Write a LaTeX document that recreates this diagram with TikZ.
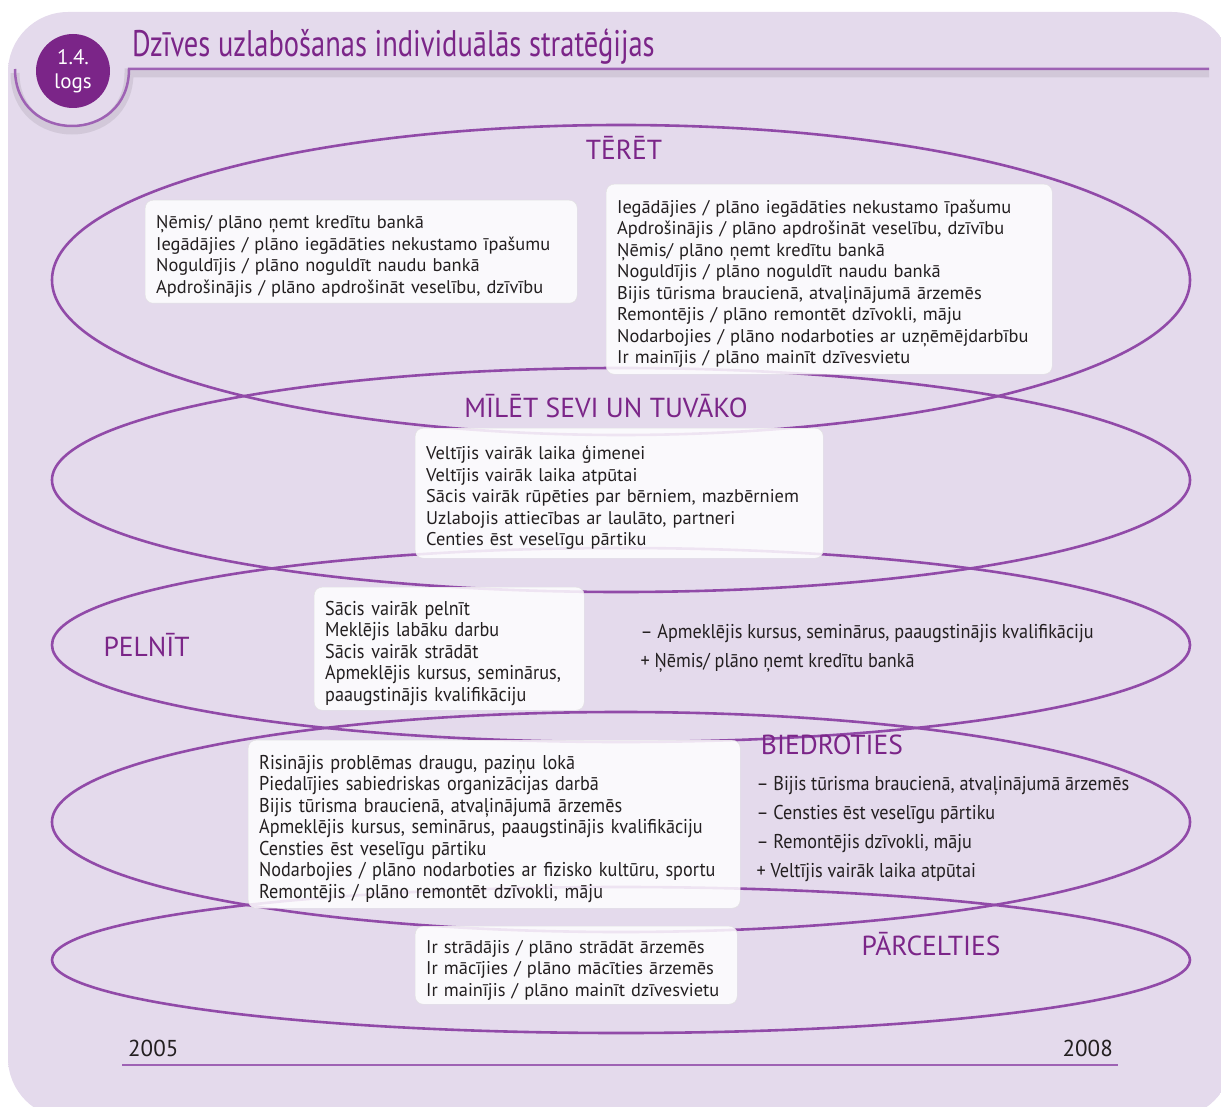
\documentclass[tikz,border=0pt]{standalone}
\usepackage{fontspec}
\setmainfont{PT Sans}
\newfontfamily\condfont{PT Sans}[FakeStretch=0.91]
\newfontfamily\titlefont{PT Sans}[FakeStretch=0.77]

\definecolor{logpurple}{RGB}{123,37,136}
\definecolor{ringpurple}{RGB}{145,74,168}
\definecolor{linepurple}{RGB}{158,98,180}
\definecolor{bglav}{RGB}{228,218,236}
\definecolor{bglight}{RGB}{241,236,246}
\definecolor{txtgray}{RGB}{35,31,32}

\begin{document}
\begin{tikzpicture}[x=1pt,y=-1pt]

\tikzset{ring/.style = {draw=ringpurple, line width=2.6pt}}
\tikzset{listbox/.style = {draw=black!12, fill=white, fill opacity=0.85, text opacity=1, rounded corners=8pt, anchor=north west, align=left, inner xsep=11pt, text=txtgray, font=\fontsize{18.4}{21.5}\selectfont, execute at begin node={\rule{0pt}{23pt}}}}
\tikzset{condbox/.style = {listbox, font=\condfont\fontsize{20}{21.5}\selectfont}}
\tikzset{heading/.style = {text=logpurple, font=\fontsize{27.5}{30}\selectfont}}
\tikzset{sidelist/.style = {anchor=west, align=left, text=txtgray, font=\condfont\fontsize{20}{29}\selectfont}}
\tikzset{badge/.style = {shape=circle, fill=logpurple, text=white, minimum size=74pt, inner sep=0pt, align=center, font=\fontsize{21}{24}\selectfont}}
\tikzset{year/.style = {text=txtgray, inner sep=0pt, font=\fontsize{23}{25}\selectfont}}

\useasboundingbox (0,0) rectangle (1221,1107);
%background
\shade[left color=bglav, middle color=bglight, right color=bglav, rounded corners=60pt] (8,12) rectangle (1232,1118);
%header
\coordinate (arcL) at (15,69);
\coordinate (arcR) at (129,69);
\coordinate (headR) at (1209,69);
\draw[black, opacity=0.08, line width=9pt] ([yshift=-4pt]arcL) .. controls (15,149) and (129,149) .. ([yshift=-4pt]arcR) -- ([yshift=-4pt]headR);
\draw[linepurple, line width=2.5pt] (arcL) .. controls (15,145) and (129,145) .. (arcR) -- (headR);
\node[badge] (logs) at (73,71) {1.4.\\logs};
\node[anchor=base west, inner sep=0pt, text=logpurple, font=\titlefont\fontsize{37}{40}\selectfont] (title) at (132,57) {Dzīves uzlabošanas individuālās stratēģijas};

%ellipses
\draw[ring] (621,280) ellipse [x radius=569pt, y radius=155pt];
\draw[ring] (621,480) ellipse [x radius=569pt, y radius=112pt];
\draw[ring] (621,645) ellipse [x radius=569pt, y radius=97pt];
\draw[ring] (621,822) ellipse [x radius=569pt, y radius=110pt];
\draw[ring] (621,960) ellipse [x radius=569pt, y radius=73pt];

%boxes
\node[listbox, text width=410pt, minimum height=103pt] (teretA) at (145,200) {Ņēmis/ plāno ņemt kredītu bankā\\Iegādājies / plāno iegādāties nekustamo īpašumu\\Noguldījis / plāno noguldīt naudu bankā\\Apdrošinājis / plāno apdrošināt veselību, dzīvību};
\node[listbox, text width=424pt, minimum height=190pt] (teretB) at (606,184) {Iegādājies / plāno iegādāties nekustamo īpašumu\\Apdrošinājis / plāno apdrošināt veselību, dzīvību\\Ņēmis/ plāno ņemt kredītu bankā\\Noguldījis / plāno noguldīt naudu bankā\\Bijis tūrisma braucienā, atvaļinājumā ārzemēs\\Remontējis / plāno remontēt dzīvokli, māju\\Nodarbojies / plāno nodarboties ar uzņēmējdarbību\\Ir mainījis / plāno mainīt dzīvesvietu};
\node[listbox, text width=386pt, minimum height=130pt] (miletA) at (415,428) {Veltījis vairāk laika ģimenei\\Veltījis vairāk laika atpūtai\\Sācis vairāk rūpēties par bērniem, mazbērniem\\Uzlabojis attiecības ar laulāto, partneri\\Centies ēst veselīgu pārtiku};
\node[condbox, text width=248pt, minimum height=123pt] (pelnitA) at (314,587) {Sācis vairāk pelnīt\\Meklējis labāku darbu\\Sācis vairāk strādāt\\Apmeklējis kursus, seminārus,\\paaugstinājis kvalifikāciju};
\node[condbox, text width=470pt, minimum height=168pt] (biedrA) at (248,740) {Risinājis problēmas draugu, paziņu lokā\\Piedalījies sabiedriskas organizācijas darbā\\Bijis tūrisma braucienā, atvaļinājumā ārzemēs\\Apmeklējis kursus, seminārus, paaugstinājis kvalifikāciju\\Censties ēst veselīgu pārtiku\\Nodarbojies / plāno nodarboties ar fizisko kultūru, sportu\\Remontējis / plāno remontēt dzīvokli, māju};
\node[listbox, text width=300pt, minimum height=78pt] (parcA) at (415,926) {Ir strādājis / plāno strādāt ārzemēs\\Ir mācījies / plāno mācīties ārzemēs\\Ir mainījis / plāno mainīt dzīvesvietu};

%headings
\node[heading] (teret) at (624,148) {TĒRĒT};
\node[heading] (milet) at (606,406) {MĪLĒT SEVI UN TUVĀKO};
\node[heading, anchor=west] (pelnit) at (100,645) {PELNĪT};
\node[heading] (biedr) at (832,745) {BIEDROTIES};
\node[heading] (parc) at (931,944) {PĀRCELTIES};

%side lists
\node[sidelist] (pelnitB) at (637,648) {– Apmeklējis kursus, seminārus, paaugstinājis kvalifikāciju\\+ Ņēmis/ plāno ņemt kredītu bankā};
\node[sidelist] (biedrB) at (753,829) {– Bijis tūrisma braucienā, atvaļinājumā ārzemēs\\– Censties ēst veselīgu pārtiku\\– Remontējis dzīvokli, māju\\+ Veltījis vairāk laika atpūtai};

%time axis
\node[year, anchor=base west] (y2005) at (128,1056) {2005};
\node[year, anchor=base east] (y2008) at (1113,1056) {2008};
\coordinate (axisL) at (122,1065);
\coordinate (axisR) at (1118,1065);
\draw[linepurple, line width=2.5pt] (axisL) -- (axisR);

\end{tikzpicture}
\end{document}
